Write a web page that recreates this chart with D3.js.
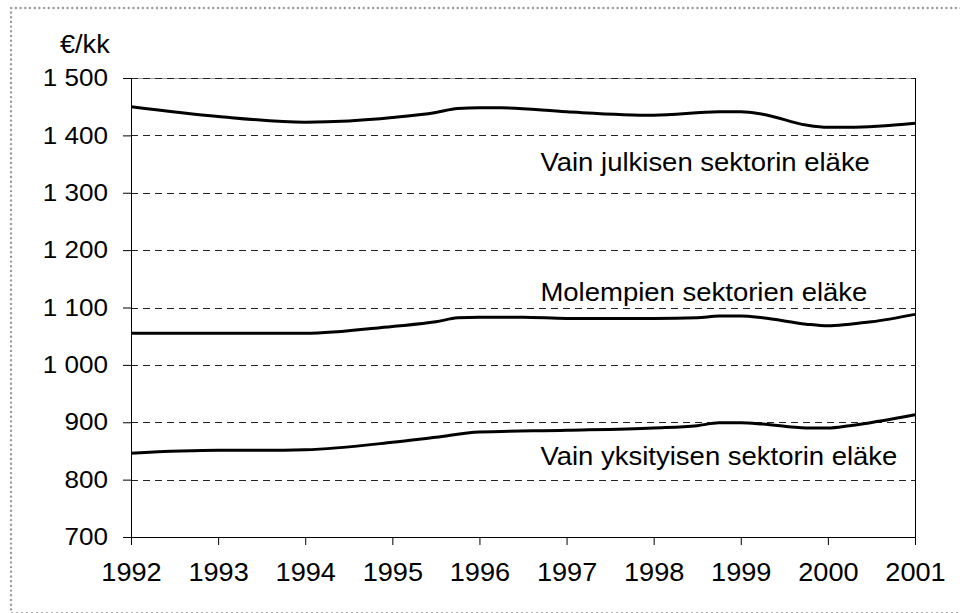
<!DOCTYPE html>
<html>
<head>
<meta charset="utf-8">
<script src="https://cdn.jsdelivr.net/npm/d3@7"></script>
<style>
  body { margin: 0; background: #fff; }
  svg { display: block; font-family: "Liberation Sans", Arial, sans-serif; }
</style>
</head>
<body>
<svg id="chart" width="960" height="613"></svg>
<script>
// values (€/kk)
const julkinenYears = [1992, 1993, 1994, 1994.5, 1995, 1995.5, 1995.75, 1996, 1996.25, 1997, 1998, 1998.75, 1999, 1999.25, 1999.75, 2000, 2000.25, 2001];
const julkinenValues = [1450, 1433, 1423, 1425, 1431, 1440, 1447, 1448, 1448, 1441, 1435, 1441, 1441, 1437, 1418, 1414, 1414, 1421];

const molemmatYears = [1992, 1993, 1994, 1995, 1995.5, 1995.75, 1996, 1996.5, 1997, 1998, 1998.5, 1998.75, 1999, 1999.25, 1999.75, 2000, 2000.25, 2000.5, 2001];
const molemmatValues = [1055, 1055, 1055, 1067, 1075, 1082, 1083, 1083, 1081, 1081, 1082, 1085, 1085, 1082, 1071, 1068, 1071, 1075, 1088];

const yksityinenYears = [1992, 1993, 1993.5, 1994, 1995, 1995.5, 1996, 1997, 1998, 1998.5, 1998.75, 1999, 1999.25, 1999.75, 2000, 2000.25, 2001];
const yksityinenValues = [846, 851, 851, 852, 865, 874, 883, 886, 890, 894, 899, 899, 897, 890, 890, 894, 913];

const xTicks = [1992, 1993, 1994, 1995, 1996, 1997, 1998, 1999, 2000, 2001];
const yTicks = [700, 800, 900, 1000, 1100, 1200, 1300, 1400, 1500];

const seriesLabels = [
  { name: "Vain julkisen sektorin eläke", years: julkinenYears, values: julkinenValues },
  { name: "Molempien sektorien eläke", years: molemmatYears, values: molemmatValues },
  { name: "Vain yksityisen sektorin eläke", years: yksityinenYears, values: yksityinenValues }
];
const labelAt = [[1996.7, 1338], [1996.7, 1112], [1996.7, 826]];

const margin = { top: 78, right: 45, bottom: 76, left: 131 };
const width = 960 - margin.left - margin.right;
const height = 613 - margin.top - margin.bottom;
const stretch = "scale(1.085,1)";

const svg = d3.select("#chart");

// dotted frame round the whole chart
svg.append("path")
  .attr("d", "M970,8 H11 V612")
  .attr("fill", "none")
  .attr("stroke", "#999")
  .attr("stroke-width", 2.4)
  .attr("stroke-linecap", "round")
  .attr("stroke-dasharray", "0,4.7");
svg.append("line")
  .attr("x1", 11).attr("x2", 960)
  .attr("y1", 612.5).attr("y2", 612.5)
  .attr("stroke", "#aaa")
  .attr("stroke-dasharray", "2,3");

const chart = svg.append("g")
  .attr("transform", `translate(${margin.left},${margin.top})`);

const x = d3.scaleLinear().domain([1992, 2001]).range([0, width]);
const y = d3.scaleLinear().domain([700, 1500]).range([height, 0]);

// top edge of the plot area, under the dashed 1 500 line
chart.append("line")
  .attr("x1", 0).attr("x2", width)
  .attr("y1", 0.5).attr("y2", 0.5)
  .attr("stroke", "#999");

// dashed gridlines
chart.append("g")
  .selectAll("line")
  .data(yTicks.filter(d => d > 700))
  .join("line")
  .attr("x1", 0)
  .attr("x2", width)
  .attr("y1", d => Math.round(y(d)) + 0.5)
  .attr("y2", d => Math.round(y(d)) + 0.5)
  .attr("stroke", "#222")
  .attr("stroke-dasharray", "7,5");

// right frame edge
chart.append("line")
  .attr("x1", width + 0.5).attr("x2", width + 0.5)
  .attr("y1", 0).attr("y2", height)
  .attr("stroke", "#000");

const yAxis = d3.axisLeft(y)
  .tickValues(yTicks)
  .tickSize(8)
  .tickPadding(0)
  .tickFormat(d => d3.format(",")(d).replace(",", " "));

const xAxis = d3.axisBottom(x)
  .tickValues(xTicks)
  .tickSize(8)
  .tickPadding(0)
  .tickFormat(d3.format("d"));

const gy = chart.append("g").call(yAxis);
gy.select(".domain").attr("d", `M0.5,0V${height}`);
gy.selectAll("text")
  .attr("x", 0)
  .attr("transform", "translate(-23,0) " + stretch)
  .style("font-size", "24px")
  .style("font-family", "inherit")
  .attr("fill", "#000");

const gx = chart.append("g")
  .attr("transform", `translate(0,${height})`)
  .call(xAxis);
gx.select(".domain").attr("d", `M0,0.5H${width}`);
gx.selectAll("text")
  .attr("y", 26)
  .attr("transform", stretch)
  .style("font-size", "25px")
  .style("font-family", "inherit")
  .attr("fill", "#000");

// unit label
svg.append("text")
  .attr("transform", "translate(60,53) " + stretch)
  .style("font-size", "25px")
  .text("€/kk");

const line = d3.line()
  .x(d => x(d[0]))
  .y(d => y(d[1]))
  .curve(d3.curveMonotoneX);

chart.selectAll(".series")
  .data(seriesLabels)
  .join("path")
  .attr("class", "series")
  .attr("fill", "none")
  .attr("stroke", "#000")
  .attr("stroke-width", 3)
  .attr("d", s => line(s.years.map((yr, i) => [yr, s.values[i]])));

chart.selectAll(".series-label")
  .data(seriesLabels)
  .join("text")
  .attr("class", "series-label")
  .attr("transform", (s, i) => `translate(${x(labelAt[i][0])},${y(labelAt[i][1])}) scale(1.1,1)`)
  .style("font-size", "25px")
  .text(s => s.name);
</script>
</body>
</html>
